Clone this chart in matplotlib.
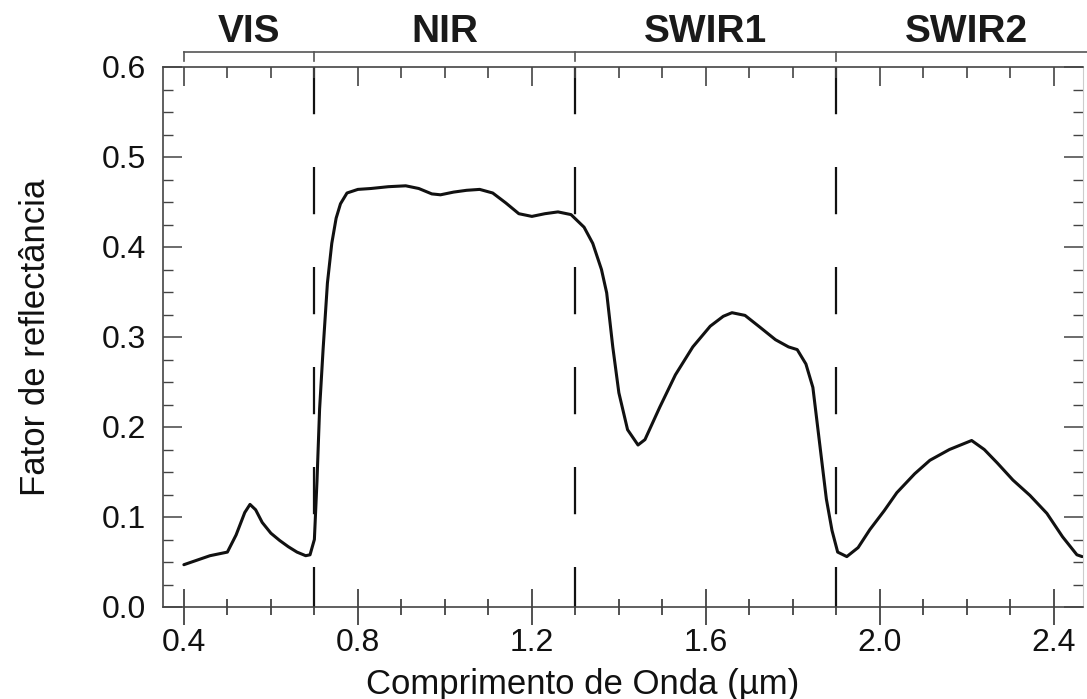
import matplotlib
matplotlib.use("Agg")
import matplotlib.pyplot as plt
from matplotlib.ticker import MultipleLocator, NullFormatter
import matplotlib.transforms as mtransforms

plt.rcParams['font.family'] = ['Liberation Sans', 'DejaVu Sans']
plt.rcParams['lines.scale_dashes'] = False

# Vegetation reflectance spectrum (wavelength in um, reflectance factor)
wavelength = [0.40, 0.43, 0.46, 0.50, 0.52, 0.54, 0.552, 0.565, 0.58, 0.60,
              0.62, 0.64, 0.66, 0.68, 0.69, 0.70, 0.706, 0.712, 0.72, 0.73,
              0.74, 0.75, 0.76, 0.775, 0.80, 0.83, 0.87, 0.91, 0.94, 0.97,
              0.99, 1.02, 1.05, 1.08, 1.11, 1.14, 1.17, 1.20, 1.23, 1.26,
              1.29, 1.32, 1.34, 1.36, 1.372, 1.386, 1.40, 1.42, 1.444, 1.46,
              1.494, 1.53, 1.57, 1.61, 1.64, 1.66, 1.69, 1.724, 1.76, 1.79,
              1.81, 1.83, 1.846, 1.857, 1.867, 1.877, 1.89, 1.903, 1.924, 1.95,
              1.977, 2.01, 2.039, 2.08, 2.115, 2.16, 2.211, 2.24, 2.27, 2.306,
              2.345, 2.384, 2.42, 2.453, 2.465]
reflectance = [0.047, 0.052, 0.057, 0.061, 0.080, 0.105, 0.114, 0.108, 0.094, 0.082,
               0.074, 0.067, 0.061, 0.057, 0.058, 0.075, 0.140, 0.220, 0.286, 0.360,
               0.404, 0.432, 0.448, 0.460, 0.464, 0.465, 0.467, 0.468, 0.465, 0.459,
               0.458, 0.461, 0.463, 0.464, 0.460, 0.449, 0.437, 0.434, 0.437, 0.439,
               0.436, 0.422, 0.404, 0.375, 0.349, 0.289, 0.238, 0.197, 0.180, 0.186,
               0.222, 0.258, 0.289, 0.312, 0.323, 0.327, 0.324, 0.311, 0.297, 0.289,
               0.286, 0.270, 0.244, 0.200, 0.160, 0.120, 0.085, 0.061, 0.056, 0.066,
               0.086, 0.107, 0.127, 0.148, 0.163, 0.175, 0.185, 0.175, 0.160, 0.141,
               0.124, 0.104, 0.078, 0.058, 0.056]

# Spectral regions
band_names = ['VIS', 'NIR', 'SWIR1', 'SWIR2']
band_edges = [0.4, 0.7, 1.3, 1.9, 2.5]

fig = plt.figure(figsize=(10.87, 6.99), dpi=100)
ax = fig.add_axes([163 / 1087, 1 - 607 / 699, 920 / 1087, 540 / 699])

ax.plot(wavelength, reflectance, color='#111111', lw=2.2, solid_capstyle='round',
        solid_joinstyle='round', zorder=3)

# dashed region boundaries
for edge in band_edges[1:-1]:
    ax.plot([edge, edge], [0.6, 0.0], color='#111111', lw=1.6,
            linestyle=(0, (34, 38)))

ax.set_xlim(0.352, 2.467)
ax.set_ylim(0, 0.6)

ax.xaxis.set_major_locator(MultipleLocator(0.4))
ax.xaxis.set_minor_locator(MultipleLocator(0.1))
ax.yaxis.set_major_locator(MultipleLocator(0.1))
ax.yaxis.set_minor_locator(MultipleLocator(0.025))
ax.xaxis.set_major_formatter(plt.FormatStrFormatter('%.1f'))
ax.yaxis.set_major_formatter(plt.FormatStrFormatter('%.1f'))

ax.tick_params(axis='x', which='major', direction='inout', length=26, width=1.2,
               labelsize=23, pad=2, colors='#333333', labelcolor='#111111')
ax.tick_params(axis='x', which='minor', direction='inout', length=12, width=1.2,
               colors='#333333')
ax.tick_params(axis='y', which='major', direction='in', length=14, width=1.1,
               labelsize=23, pad=12, colors='#444444', labelcolor='#111111')
ax.tick_params(axis='y', which='minor', direction='in', length=7, width=1.0,
               colors='#444444')
ax.tick_params(axis='y', which='both', right=True)

for side in ['left', 'bottom', 'top']:
    ax.spines[side].set_color('#444444')
    ax.spines[side].set_linewidth(1.2)
ax.spines['right'].set_color('#cccccc')

# top axis ticks point down into the plot
top = ax.twiny()
top.set_xlim(ax.get_xlim())
top.xaxis.set_major_locator(MultipleLocator(0.4))
top.xaxis.set_minor_locator(MultipleLocator(0.1))
top.xaxis.set_major_formatter(NullFormatter())
top.tick_params(axis='x', which='major', direction='in', length=14, width=1.2,
                colors='#444444')
top.tick_params(axis='x', which='minor', direction='in', length=8, width=1.2,
                colors='#444444')
for s in top.spines.values():
    s.set_visible(False)

ax.set_xlabel('Comprimento de Onda (\u00b5m)', fontsize=25, labelpad=7,
              color='#111111', x=0.4565)
ax.set_ylabel('Fator de reflect\u00e2ncia', fontsize=25, labelpad=36,
              color='#111111')

# band bracket and names above the plot
trans = mtransforms.blended_transform_factory(ax.transData, ax.transAxes)
bracket_y = 1.028
ax.plot([band_edges[0], 2.6], [bracket_y, bracket_y], color='#555555', lw=1.2,
        transform=trans, clip_on=False)
for edge in band_edges[:-1]:
    ax.plot([edge, edge], [bracket_y, bracket_y - 0.016], color='#555555',
            lw=1.2, transform=trans, clip_on=False)
for name, lo, hi in zip(band_names, band_edges[:-1], band_edges[1:]):
    ax.text((lo + hi) / 2, 1.031, name, transform=trans, ha='center',
            va='bottom', fontsize=28, fontweight='bold', color='#1a1a1a')

fig.savefig('out.png', dpi=100, facecolor='white')
